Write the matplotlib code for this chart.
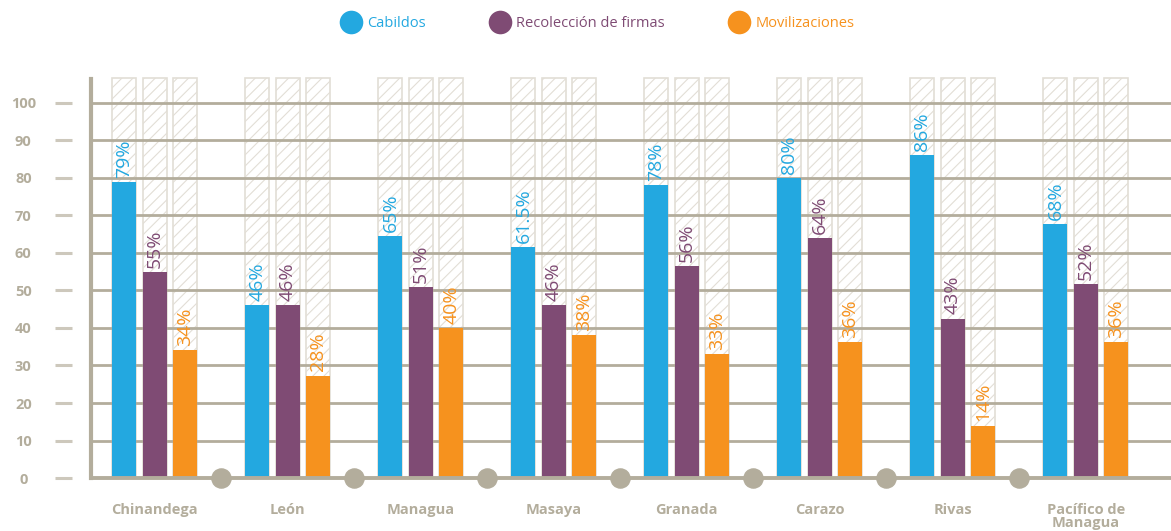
import numpy as np
import matplotlib.pyplot as plt
from matplotlib.lines import Line2D

plt.rcParams['font.family'] = ['Open Sans', 'DejaVu Sans']
plt.rcParams['hatch.linewidth'] = 0.8

# data
departamentos = ['Chinandega', 'León', 'Managua', 'Masaya', 'Granada',
                 'Carazo', 'Rivas', 'Pacífico de\nManagua']
cabildos = [79, 46, 64.5, 61.5, 78, 80, 86, 67.7]
firmas = [55, 46, 51, 46, 56.5, 64, 42.5, 51.7]
movilizaciones = [34, 27.3, 40, 38, 33, 36.3, 14, 36.3]
lab_cabildos = ['79%', '46%', '65%', '61.5%', '78%', '80%', '86%', '68%']
lab_firmas = ['55%', '46%', '51%', '46%', '56%', '64%', '43%', '52%']
lab_movil = ['34%', '28%', '40%', '38%', '33%', '36%', '14%', '36%']
fondo = 106.7  # hatched background bars
yticks = np.arange(0, 101, 10)

series = [('Cabildos', cabildos, lab_cabildos, '#23a8e0'),
          ('Recolección de firmas', firmas, lab_firmas, '#7f4b74'),
          ('Movilizaciones', movilizaciones, lab_movil, '#f6921e')]
gris = '#b3ad9c'

fig = plt.figure(figsize=(11.71, 5.31), dpi=100)
ax = fig.add_axes([0.0777, 0.0998, 0.9223, 0.7557])

x = np.arange(len(departamentos))
w = 0.18
step = 0.229

for i, (name, vals, labs, col) in enumerate(series):
    xs = x + (i - 1) * step
    ax.bar(xs, [fondo] * len(x), w, color='none', edgecolor='#e2ded6',
           hatch='///', linewidth=1.2, zorder=1)
    ax.bar(xs, vals, w, color=col, zorder=3)
    for xx, v, t in zip(xs, vals, labs):
        ax.annotate(t, (xx, v), xytext=(0, 3), textcoords='offset points',
                    rotation=90, ha='center', va='bottom', fontsize=14,
                    color=col, zorder=4)

# grid lines
for yy in yticks[1:]:
    ax.axhline(yy, color=gris, lw=2, zorder=2)

# circles between groups
mids = (x[:-1] + x[1:]) / 2
ax.scatter(mids, np.zeros(len(mids)), s=190, color=gris, zorder=5, clip_on=False)

ax.set_xlim(-0.48, 7.64)
ax.set_ylim(0, 107)

for s in ['top', 'right']:
    ax.spines[s].set_visible(False)
ax.spines['bottom'].set_color(gris)
ax.spines['bottom'].set_linewidth(2.8)
ax.spines['bottom'].set_zorder(4)
ax.spines['left'].set_position(('outward', 13.7))
ax.spines['left'].set_visible(False)
ax.axvline(-0.48, ymin=0, ymax=0.995, color=gris, lw=3, clip_on=False, zorder=4)

ax.set_yticks(yticks)
ax.set_yticklabels([str(v) for v in yticks], fontsize=10.5, fontweight='bold',
                   color=gris, ha='center')
ax.tick_params(axis='y', length=12, width=2.2, color='#cdc8bc', pad=23)

ax.set_xticks(x)
ax.set_xticklabels(departamentos, fontsize=10.5, fontweight='bold', color=gris,
                   linespacing=0.95, va='top')
ax.tick_params(axis='x', length=0, pad=18)

handles = [Line2D([], [], marker='o', ls='none', markersize=17, color=c,
                  markeredgewidth=0) for _, _, _, c in series]
leg = fig.legend(handles, [s[0] for s in series], loc='center',
                 bbox_to_anchor=(0.5086, 0.955), ncol=3, frameon=False,
                 fontsize=10.5, columnspacing=4.1, handletextpad=0.1)
for t, (_, _, _, c) in zip(leg.get_texts(), series):
    t.set_color(c)

fig.savefig('out.png', dpi=100)
